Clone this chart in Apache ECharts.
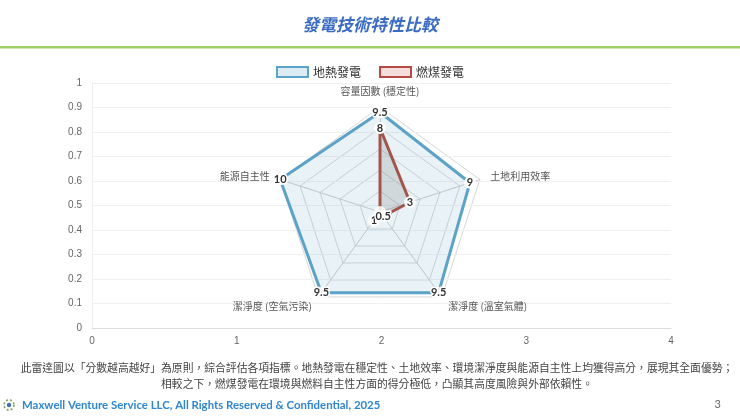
<!DOCTYPE html>
<html>
<head>
<meta charset="utf-8">
<script src="https://cdn.jsdelivr.net/npm/echarts@6/dist/echarts.min.js"></script>
<style>
  html, body { margin: 0; padding: 0; background: #fff; }
  #chart { width: 740px; height: 416px; }
</style>
</head>
<body>
<div id="chart"></div>
<script>
const titleText = '發電技術特性比較';
// indicators listed in ECharts drawing order (counter-clockwise from top)
const indicators = ['容量因數 (穩定性)', '能源自主性', '潔淨度 (空氣污染)', '潔淨度 (溫室氣體)', '土地利用效率'];
const indicatorMax = 10;
const seriesNames = ['地熱發電', '燃煤發電'];
const geothermalValues = [9.5, 10, 9.5, 9.5, 9];
const coalValues = [8, 0, 1, 0.5, 3];
const xTicks = [0, 1, 2, 3, 4];
const yTicks = [0, 0.1, 0.2, 0.3, 0.4, 0.5, 0.6, 0.7, 0.8, 0.9, 1];
const noteLines = [
  '此雷達圖以「分數越高越好」為原則，綜合評估各項指標。地熱發電在穩定性、土地效率、環境潔淨度與能源自主性上均獲得高分，展現其全面優勢；',
  '相較之下，燃煤發電在環境與燃料自主性方面的得分極低，凸顯其高度風險與外部依賴性。'
];
const footerText = 'Maxwell Venture Service LLC, All Rights Reserved & Confidential, 2025';
const pageNumber = '3';

const CJK = '"Noto Sans CJK TC", "Noto Sans", sans-serif';
const chart = echarts.init(document.getElementById('chart'), null, { renderer: 'canvas' });

const labelStyle = {
  show: true,
  position: 'inside',
  color: '#333',
  fontWeight: 'bold',
  fontSize: 11,
  fontFamily: 'Lato, "Noto Sans", sans-serif',
  textBorderColor: '#fff',
  textBorderWidth: 3,
  formatter: p => (p.value === 0 ? '' : String(p.value))
};

const option = {
  animation: false,
  backgroundColor: '#fff',
  title: {
    text: titleText,
    left: 'center',
    top: 11,
    textStyle: { color: '#3b6cc4', fontSize: 17, fontWeight: 'bold', fontStyle: 'italic', fontFamily: CJK }
  },
  legend: {
    top: 61,
    left: 'center',
    itemWidth: 31,
    itemHeight: 10,
    itemGap: 18,
    textStyle: { color: '#333', fontSize: 12, fontFamily: CJK },
    data: [
      { name: seriesNames[0], icon: 'rect', itemStyle: { color: '#dcebf4', borderColor: '#5ca3c8', borderWidth: 2 } },
      { name: seriesNames[1], icon: 'rect', itemStyle: { color: '#f4dedb', borderColor: '#b54a40', borderWidth: 2 } }
    ]
  },
  grid: { left: 92, right: 69, top: 83, bottom: 88 },
  xAxis: {
    type: 'value', min: xTicks[0], max: xTicks[xTicks.length - 1], interval: 1,
    axisLine: { show: true, lineStyle: { color: '#ddd' } },
    axisTick: { show: false },
    splitLine: { show: false },
    axisLabel: { color: '#666', fontSize: 10, margin: 8 }
  },
  yAxis: {
    type: 'value', min: yTicks[0], max: yTicks[yTicks.length - 1], interval: 0.1,
    axisLine: { show: true, lineStyle: { color: '#eee' } },
    axisTick: { show: false },
    splitLine: { show: true, lineStyle: { color: '#f0f0f0' } },
    axisLabel: { color: '#666', fontSize: 10, margin: 10 }
  },
  radar: {
    center: [380, 212],
    radius: 105,
    startAngle: 90,
    splitNumber: 5,
    shape: 'polygon',
    indicator: indicators.map(n => ({ name: n, max: indicatorMax, min: 0 })),
    axisName: { color: '#555', fontSize: 10, fontFamily: CJK },
    nameGap: 11,
    axisLine: { lineStyle: { color: '#ccc' } },
    splitLine: { lineStyle: { color: '#ccc', width: 0.8 } },
    splitArea: { show: false },
    axisLabel: { show: false }
  },
  series: [
    {
      type: 'radar',
      name: seriesNames[0],
      symbol: 'circle',
      symbolSize: 12,
      lineStyle: { color: '#5ca3c8', width: 3 },
      itemStyle: { color: 'rgba(255,255,255,0.85)', borderWidth: 0 },
      areaStyle: { color: 'rgba(92,163,200,0.2)' },
      label: labelStyle,
      data: [{ name: seriesNames[0], value: geothermalValues }]
    },
    {
      type: 'radar',
      name: seriesNames[1],
      symbol: 'circle',
      symbolSize: 12,
      lineStyle: { color: '#a8544b', width: 3 },
      itemStyle: { color: 'rgba(255,255,255,0.85)', borderWidth: 0 },
      areaStyle: { color: 'rgba(100,95,95,0.25)' },
      label: labelStyle,
      data: [{ name: seriesNames[1], value: coalValues }]
    }
  ],
  graphic: [
    { type: 'rect', shape: { x: 0, y: 46, width: 740, height: 2.5 }, style: { fill: '#9fcf6a' } },
    { type: 'text', x: 377, y: 368, style: { text: noteLines[0], fill: '#444', fontSize: 10.8, fontFamily: CJK, align: 'center', verticalAlign: 'middle' } },
    { type: 'text', x: 377, y: 384, style: { text: noteLines[1], fill: '#444', fontSize: 10.8, fontFamily: CJK, align: 'center', verticalAlign: 'middle' } },
    { type: 'circle', shape: { cx: 9, cy: 405, r: 5 }, style: { fill: 'none', stroke: '#7aa35a', lineWidth: 1.5, lineDash: [2, 2] } },
    { type: 'circle', shape: { cx: 9, cy: 405, r: 2.2 }, style: { fill: '#3f6fb5' } },
    { type: 'text', x: 22, y: 405, style: { text: footerText, fill: '#2f86d0', fontSize: 11.4, fontWeight: 'bold', fontFamily: 'Lato, "Open Sans", sans-serif', verticalAlign: 'middle' } },
    { type: 'text', x: 721, y: 404, style: { text: pageNumber, fill: '#666', fontSize: 11, fontFamily: 'Lato, sans-serif', align: 'right', verticalAlign: 'middle' } }
  ]
};
chart.setOption(option);
</script>
</body>
</html>
